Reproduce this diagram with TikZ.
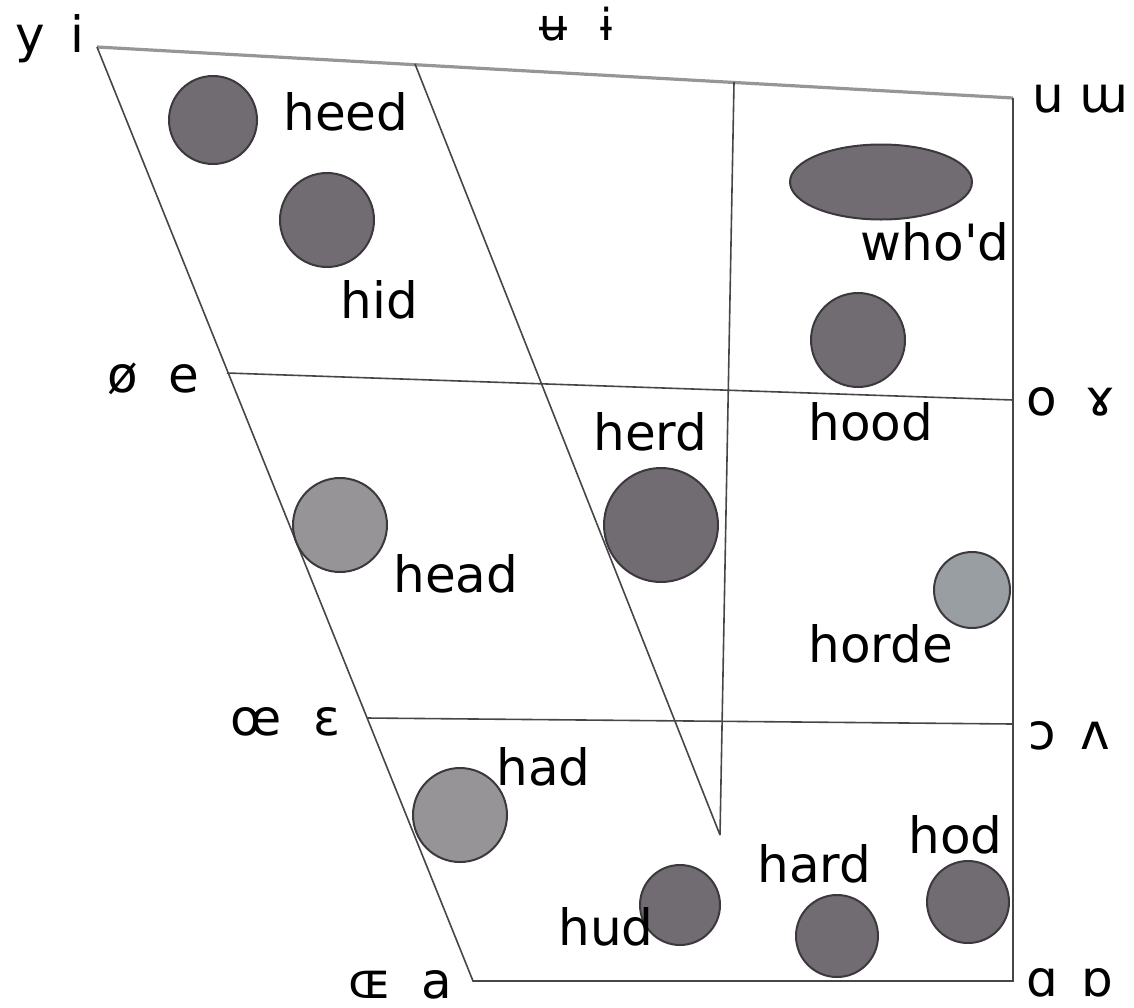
\documentclass[tikz,border=0pt]{standalone}
\usepackage{fontspec}
\setmainfont{DejaVu Sans}
\usetikzlibrary{shapes.geometric}
\definecolor{linegray}{RGB}{70,70,70}
\definecolor{topgray}{RGB}{150,150,150}
\definecolor{dotgray}{RGB}{112,108,114}
\definecolor{dotlight}{RGB}{150,148,150}
\definecolor{dotpale}{RGB}{152,158,162}
\definecolor{dotedge}{RGB}{60,56,62}

\begin{document}
\begin{tikzpicture}[x=0.5pt,y=-0.5pt,
  chart/.style={draw=linegray,line width=0.8pt},
  dot/.style={circle,draw=dotedge,fill=dotgray,line width=1pt,inner sep=0pt},
  word/.style={anchor=base west,inner sep=0pt,font=\fontsize{25}{30}\selectfont},
  ipa/.style={anchor=base,inner sep=0pt,text depth=0pt,font=\fontsize{25}{30}\selectfont}]
\useasboundingbox (0,0) rectangle (1134,1007);
%% corners of the chart
\coordinate (fronthigh) at (97,47);
\coordinate (backhigh) at (1013,98);
\coordinate (frontlow) at (473,981);
\coordinate (backlow) at (1013,981);
\coordinate (frontmid) at (227,373);
\coordinate (backmid) at (1013,400);
\coordinate (frontopen) at (367,718);
\coordinate (backopen) at (1013,724);
\coordinate (centtop) at (415,64);
\coordinate (backtop) at (734,82);
\coordinate (centbot) at (720,835);
%% outline
\draw[draw=topgray,line width=1.6pt] (fronthigh)--(backhigh);
\draw[chart] (fronthigh)--(frontlow)--(backlow)--(backhigh);
\draw[chart] (frontmid)--(backmid) (frontopen)--(backopen);
\draw[chart] (centtop)--(centbot) (backtop)--(centbot);
%% vowel symbols
\node[ipa] (y) at (30,52) {y};
\node[ipa] (i) at (77,52) {i};
\node[ipa,font=\fontsize{22}{26}\selectfont] (ubar) at (553,40) {ʉ};
\node[ipa,font=\fontsize{22}{26}\selectfont] (ibar) at (607,40) {ɨ};
\node[ipa] (u) at (1048,112) {u};
\node[ipa] (uu) at (1104,112) {ɯ};
\node[ipa] (oslash) at (123,392) {ø};
\node[ipa] (e) at (184,392) {e};
\node[ipa] (o) at (1042,415) {o};
\node[ipa] (ram) at (1100,415) {ɤ};
\node[ipa] (oe) at (256,735) {œ};
\node[ipa] (eps) at (327,735) {ɛ};
\node[ipa] (openo) at (1042,749) {ɔ};
\node[ipa] (wedge) at (1095,749) {ʌ};
\node[ipa] (OE) at (370,998) {ɶ};
\node[ipa] (a) at (437,998) {a};
\node[ipa] (alpha) at (1042,996) {ɑ};
\node[ipa] (turna) at (1097,996) {ɒ};
%% measured vowels
\node[dot,minimum size=44pt] (heeddot) at (213,120) {};
\node[dot,minimum size=47pt] (hiddot) at (327,220) {};
\node[dot,ellipse,minimum width=91pt,minimum height=37.5pt] (whoddot) at (881,182) {};
\node[dot,minimum size=47pt] (hooddot) at (858,340) {};
\node[dot,minimum size=57pt] (herddot) at (661,525) {};
\node[dot,fill=dotlight,minimum size=47pt] (headdot) at (340,525) {};
\node[dot,fill=dotpale,minimum size=38pt] (hordedot) at (972,590) {};
\node[dot,fill=dotlight,minimum size=47pt] (haddot) at (460,815) {};
\node[dot,minimum size=40pt] (huddot) at (680,905) {};
\node[dot,minimum size=41pt] (harddot) at (837,936) {};
\node[dot,minimum size=41pt] (hoddot) at (968,902) {};
%% words
\node[word] (heed) at (283,130) {heed};
\node[word] (hid) at (340,318) {hid};
\node[word,anchor=base east] (whod) at (1010,260) {who\textquotesingle d};
\node[word] (hood) at (808,440) {hood};
\node[word] (herd) at (593,450) {herd};
\node[word] (head) at (393,592) {head};
\node[word] (horde) at (808,662) {horde};
\node[word] (had) at (496,785) {had};
\node[word] (hud) at (558,945) {hud};
\node[word] (hard) at (757,882) {hard};
\node[word] (hod) at (908,853) {hod};
\end{tikzpicture}
\end{document}
